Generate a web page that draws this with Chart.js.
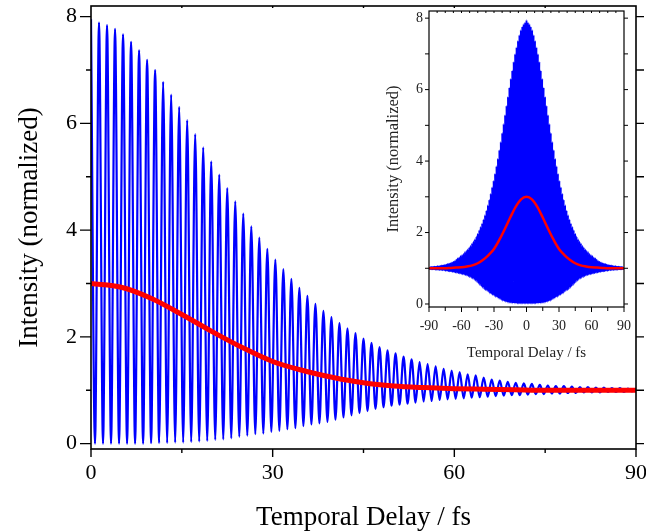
<!DOCTYPE html>
<html>
<head>
<meta charset="utf-8">
<script src="https://cdn.jsdelivr.net/npm/chart.js@4.4.1/dist/chart.umd.min.js"></script>
<style>
  html, body { margin: 0; padding: 0; background: #fff; }
  #wrap { position: relative; width: 646px; height: 531px; }
  #main { position: absolute; left: 0; top: 0; }
  #inset { position: absolute; left: 383px; top: 8px; }
</style>
</head>
<body>
<div id="wrap">
  <canvas id="main" width="646" height="531"></canvas>
  <canvas id="inset" width="263" height="360"></canvas>
</div>
<script>
// spacing between neighbouring fringe maxima, fs
const fringePeriod = 1.3235;

// fringe maxima, one per period starting at zero delay
const fringePeaks = [
  7.95, 7.89, 7.84, 7.77, 7.67, 7.53, 7.37, 7.19, 7.00, 6.78, 6.54, 6.31, 6.06, 5.80, 5.55, 5.29, 5.04,
  4.79, 4.54, 4.31, 4.07, 3.86, 3.65, 3.45, 3.27, 3.09, 2.92, 2.77, 2.62, 2.49, 2.37, 2.26,
  2.16, 2.07, 1.97, 1.89, 1.81, 1.75, 1.69, 1.63, 1.58, 1.53, 1.49, 1.45, 1.40, 1.37, 1.34, 1.30, 1.28,
  1.24, 1.20, 1.18, 1.16, 1.14, 1.13, 1.12, 1.10, 1.09, 1.08, 1.08, 1.07, 1.06, 1.06, 1.05, 1.05, 1.04, 1.04, 1.03, 1.03
];

// fringe minima, half a period after each maximum
const fringeTroughs = [
  0.00, 0.00, 0.00, 0.00, 0.00, 0.00, 0.00, 0.01, 0.01, 0.01, 0.02, 0.02, 0.03, 0.04, 0.05,
  0.07, 0.08, 0.10, 0.13, 0.15, 0.18, 0.19, 0.22, 0.24, 0.27, 0.29, 0.33, 0.36, 0.38, 0.41,
  0.45, 0.49, 0.53, 0.57, 0.61, 0.65, 0.68, 0.71, 0.73, 0.75, 0.77, 0.79, 0.80, 0.82, 0.83, 0.84, 0.85, 0.86, 0.87,
  0.88, 0.89, 0.90, 0.91, 0.91, 0.92, 0.93, 0.93, 0.94, 0.94, 0.95, 0.95, 0.96, 0.96, 0.96, 0.97, 0.97, 0.97, 0.98
];

// fringe-averaged (intensity) autocorrelation
const envelopeDelays = [0, 5, 10, 15, 20, 25, 30, 35, 40, 45, 50, 55, 60, 65, 70, 75, 80, 85, 90];
const envelopeValues = [3.00, 2.93, 2.72, 2.42, 2.10, 1.80, 1.54, 1.37, 1.24, 1.14, 1.08, 1.05, 1.03, 1.02, 1.01, 1.00, 1.00, 1.00, 1.00];

const mainTicksX = [0, 30, 60, 90];
const mainMinorX = [15, 45, 75];
const mainTopX = [15, 30, 45, 60, 75];
const insetTicksX = [-90, -60, -30, 0, 30, 60, 90];
const insetMinorX = [-75, -45, -15, 15, 45, 75];
const insetTopX = [-82.5, -75, -67.5, -60, -52.5, -45, -37.5, -30, -22.5, -15, -7.5, 0, 7.5, 15, 22.5, 30, 37.5, 45, 52.5, 60, 67.5, 75, 82.5];
const ticksY = [0, 2, 4, 6, 8];
const minorY = [1, 3, 5, 7];
const allY = [0, 1, 2, 3, 4, 5, 6, 7, 8];

const serif = '"Liberation Serif", "Times New Roman", serif';

function fringePoints(mirror) {
  const pts = [];
  fringePeaks.forEach((v, k) => {
    pts.push({x: k * fringePeriod, y: v});
    if (k < fringeTroughs.length) pts.push({x: (k + 0.5) * fringePeriod, y: fringeTroughs[k]});
  });
  if (!mirror) return pts;
  return pts.slice(1).reverse().map(p => ({x: -p.x, y: p.y})).concat(pts);
}

function envelopePoints(mirror) {
  const pts = envelopeDelays.map((d, i) => ({x: d, y: envelopeValues[i]}));
  if (!mirror) return pts;
  return pts.slice(1).reverse().map(p => ({x: -p.x, y: p.y})).concat(pts);
}

// box around the plot area plus outward / inward tick marks
const frameTicks = {
  id: 'frameTicks',
  beforeDraw(chart, args, opts) {
    if (!opts.fillArea) return;
    const {ctx, chartArea: a} = chart;
    ctx.save();
    ctx.fillStyle = '#fff';
    ctx.fillRect(a.left, a.top, a.right - a.left, a.bottom - a.top);
    ctx.restore();
  },
  afterDraw(chart, args, opts) {
    const {ctx, chartArea: a, scales} = chart;
    ctx.save();
    ctx.strokeStyle = '#000';
    ctx.lineWidth = opts.frameWidth;
    ctx.strokeRect(a.left, a.top, a.right - a.left, a.bottom - a.top);
    ctx.lineWidth = opts.tickWidth;
    ctx.beginPath();
    opts.marks.forEach(m => {
      m.values.forEach(v => {
        if (m.side === 'bottom' || m.side === 'top') {
          const px = scales.x.getPixelForValue(v);
          const y0 = m.side === 'bottom' ? a.bottom : a.top;
          const dir = m.side === 'bottom' ? 1 : -1;
          ctx.moveTo(px, y0);
          ctx.lineTo(px, y0 + dir * m.length);
        } else {
          const py = scales.y.getPixelForValue(v);
          const x0 = m.side === 'left' ? a.left : a.right;
          const dir = m.side === 'left' ? -1 : 1;
          ctx.moveTo(x0, py);
          ctx.lineTo(x0 + dir * m.length, py);
        }
      });
    });
    ctx.stroke();
    ctx.restore();
  },
};

function fixedTicks(values) {
  return scale => { scale.ticks = values.map(v => ({value: v})); };
}

new Chart(document.getElementById('main'), {
  type: 'line',
  data: {
    datasets: [
      {
        data: fringePoints(false),
        borderColor: '#0000ff',
        borderWidth: 2.2,
        pointRadius: 0,
        cubicInterpolationMode: 'monotone',
        order: 2,
      },
      {
        data: envelopePoints(false),
        borderColor: '#ff0000',
        borderWidth: 5,
        pointRadius: 0,
        cubicInterpolationMode: 'monotone',
        order: 1,
      },
    ],
  },
  options: {
    responsive: false,
    animation: false,
    events: [],
    layout: {padding: {top: 6, right: 10, left: 0, bottom: 0}},
    plugins: {
      legend: {display: false},
      tooltip: {enabled: false},
      frameTicks: {
        frameWidth: 1.6,
        tickWidth: 1.4,
        marks: [
          {side: 'bottom', values: mainTicksX, length: 8},
          {side: 'bottom', values: mainMinorX, length: 4},
          {side: 'top', values: mainTopX, length: -2},
          {side: 'left', values: ticksY, length: 11},
          {side: 'left', values: minorY, length: 5},
          {side: 'right', values: allY, length: 8},
        ],
      },
    },
    scales: {
      x: {
        type: 'linear',
        position: 'bottom',
        min: 0,
        max: 90,
        afterBuildTicks: fixedTicks(mainTicksX),
        afterFit: s => { s.height = 82; s.paddingLeft = 0; s.paddingRight = 0; },
        grid: {display: false, drawTicks: false},
        border: {display: false},
        ticks: {color: '#000', font: {family: serif, size: 22}, padding: 11, maxRotation: 0, autoSkip: false},
        title: {display: true, text: 'Temporal Delay / fs', color: '#000', font: {family: serif, size: 27, lineHeight: 1}, padding: {top: 0, bottom: 0}},
      },
      y: {
        type: 'linear',
        position: 'left',
        min: -0.1,
        max: 8.2,
        afterBuildTicks: fixedTicks(ticksY),
        afterFit: s => { s.width = 91; s.paddingTop = 0; s.paddingBottom = 0; },
        grid: {display: false, drawTicks: false},
        border: {display: false},
        ticks: {color: '#000', font: {family: serif, size: 22}, padding: 14, autoSkip: false},
        title: {display: true, text: 'Intensity (normalized)', color: '#000', font: {family: serif, size: 27, lineHeight: 1}, padding: {top: 16, bottom: 0}},
      },
    },
  },
  plugins: [frameTicks],
});

new Chart(document.getElementById('inset'), {
  type: 'line',
  data: {
    datasets: [
      {
        data: fringePoints(true),
        borderColor: '#0000ff',
        borderWidth: 1.7,
        pointRadius: 0,
        cubicInterpolationMode: 'monotone',
        order: 2,
      },
      {
        data: envelopePoints(true),
        borderColor: '#ff0000',
        borderWidth: 2.5,
        pointRadius: 0,
        cubicInterpolationMode: 'monotone',
        order: 1,
      },
    ],
  },
  options: {
    responsive: false,
    animation: false,
    events: [],
    layout: {padding: {top: 3, right: 22, left: 0, bottom: 0}},
    plugins: {
      legend: {display: false},
      tooltip: {enabled: false},
      frameTicks: {
        fillArea: true,
        frameWidth: 1.2,
        tickWidth: 1,
        marks: [
          {side: 'bottom', values: insetTicksX, length: 5},
          {side: 'bottom', values: insetMinorX, length: 4},
          {side: 'top', values: insetTopX, length: -2},
          {side: 'left', values: allY, length: 4},
          {side: 'right', values: allY, length: 4},
        ],
      },
    },
    scales: {
      x: {
        type: 'linear',
        position: 'bottom',
        min: -90,
        max: 90,
        afterBuildTicks: fixedTicks(insetTicksX),
        afterFit: s => { s.height = 61; s.paddingLeft = 0; s.paddingRight = 0; },
        grid: {display: false, drawTicks: false},
        border: {display: false},
        ticks: {color: '#222', font: {family: serif, size: 14}, padding: 11, maxRotation: 0, autoSkip: false},
        title: {display: true, text: 'Temporal Delay / fs', color: '#222', font: {family: serif, size: 15}, padding: {top: 0, bottom: 6}},
      },
      y: {
        type: 'linear',
        position: 'left',
        min: -0.084,
        max: 8.2,
        afterBuildTicks: fixedTicks(ticksY),
        afterFit: s => { s.width = 46; s.paddingTop = 0; s.paddingBottom = 0; },
        grid: {display: false, drawTicks: false},
        border: {display: false},
        ticks: {color: '#222', font: {family: serif, size: 14}, padding: 6, autoSkip: false},
        title: {display: true, text: 'Intensity (normalized)', color: '#222', font: {family: serif, size: 16.5}, padding: {top: 1, bottom: 0}},
      },
    },
  },
  plugins: [frameTicks],
});
</script>
</body>
</html>
